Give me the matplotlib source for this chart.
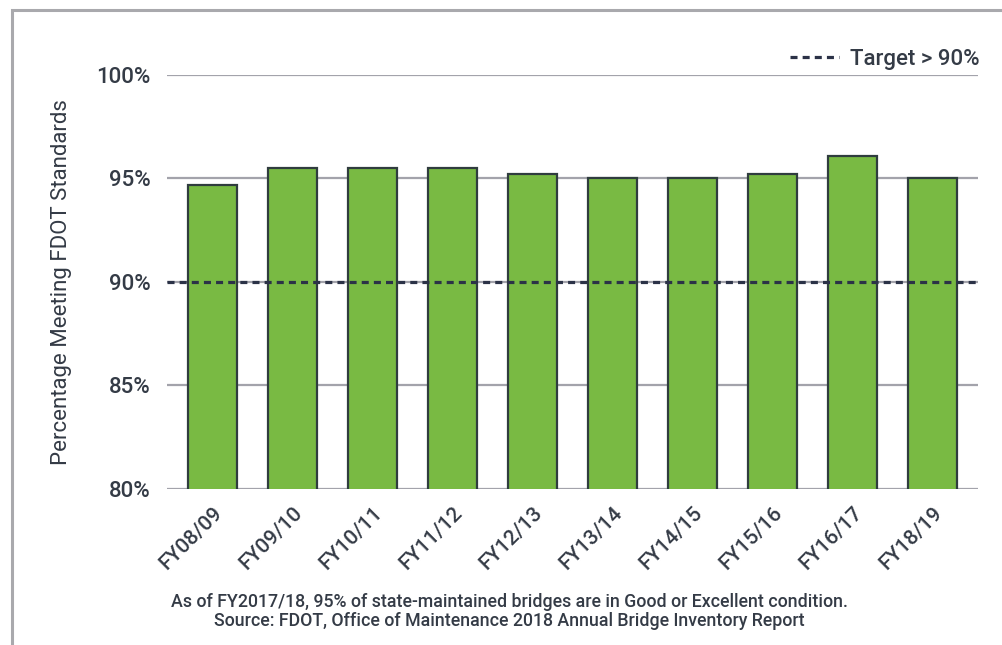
import numpy as np
import matplotlib.pyplot as plt
import matplotlib.transforms as mtransforms
from matplotlib.patches import Rectangle

years = ["FY08/09", "FY09/10", "FY10/11", "FY11/12", "FY12/13",
         "FY13/14", "FY14/15", "FY15/16", "FY16/17", "FY18/19"]
pct = [94.7, 95.5, 95.5, 95.5, 95.2, 95.0, 95.0, 95.2, 96.1, 95.0]
target = 90
yticks = [80, 85, 90, 95, 100]
notes = ["As of FY2017/18, 95% of state-maintained bridges are in Good or Excellent condition.",
         "Source: FDOT, Office of Maintenance 2018 Annual Bridge Inventory Report"]

plt.rcParams["font.family"] = ["Roboto", "DejaVu Sans"]
plt.rcParams["font.weight"] = "medium"
txt = "#343b46"

fig = plt.figure(figsize=(10.03, 6.45), dpi=100)
W, H = 1003, 645
ax = fig.add_axes([167 / W, 1 - 489 / H, (978 - 167) / W, (489 - 75) / H])

# page frame (left + top edge)
fig.patches.append(Rectangle((12 / W, -0.1), 1.2, 635 / H + 0.1,
                             transform=fig.transFigure, fill=False,
                             edgecolor="#a9a9ad", linewidth=2.2, zorder=0))

x = np.arange(len(years))
for y in yticks:
    ax.axhline(y, color="#a3a3ab", linewidth=1.6, zorder=1)
ax.bar(x, pct, width=0.61, color="#79ba43", edgecolor="#2f3c3e",
       linewidth=1.6, zorder=2)
ax.axhline(target, color="#2b3247", linewidth=2.3, dashes=(2.2, 1.6),
           zorder=3, label="Target > 90%")

ax.set_xlim(-0.57, 9.57)
ax.set_ylim(80, 100)
ax.set_yticks(yticks)
ax.set_yticklabels([f"{y}%" for y in yticks], fontsize=16, color=txt)
ax.set_xticks(x)
ax.set_xticklabels(years, rotation=45, ha="right", rotation_mode="anchor",
                   fontsize=15, color=txt)
shift = mtransforms.ScaledTranslation(-12 / 100, 0, fig.dpi_scale_trans)
for lab in ax.get_xticklabels():
    lab.set_transform(lab.get_transform() + shift)
ax.tick_params(axis="y", length=0, pad=12)
ax.tick_params(axis="x", length=0, pad=10)
for s in ax.spines.values():
    s.set_visible(False)
ax.patch.set_alpha(0)

ax.set_ylabel("Percentage Meeting FDOT Standards", fontsize=16, color=txt,
              labelpad=17)

leg = ax.legend(loc="upper right", bbox_to_anchor=(1000 / W, 1 - 29 / H),
                bbox_transform=fig.transFigure, frameon=False, fontsize=16,
                handlelength=2.2, handletextpad=0.5)
for t in leg.get_texts():
    t.set_color(txt)

fig.text(0.508, 1 - 602 / H, notes[0], ha="center", va="center", fontsize=12.8, color=txt)
fig.text(0.508, 1 - 621 / H, notes[1], ha="center", va="center", fontsize=12.8, color=txt)

fig.savefig("out.png", dpi=100)
